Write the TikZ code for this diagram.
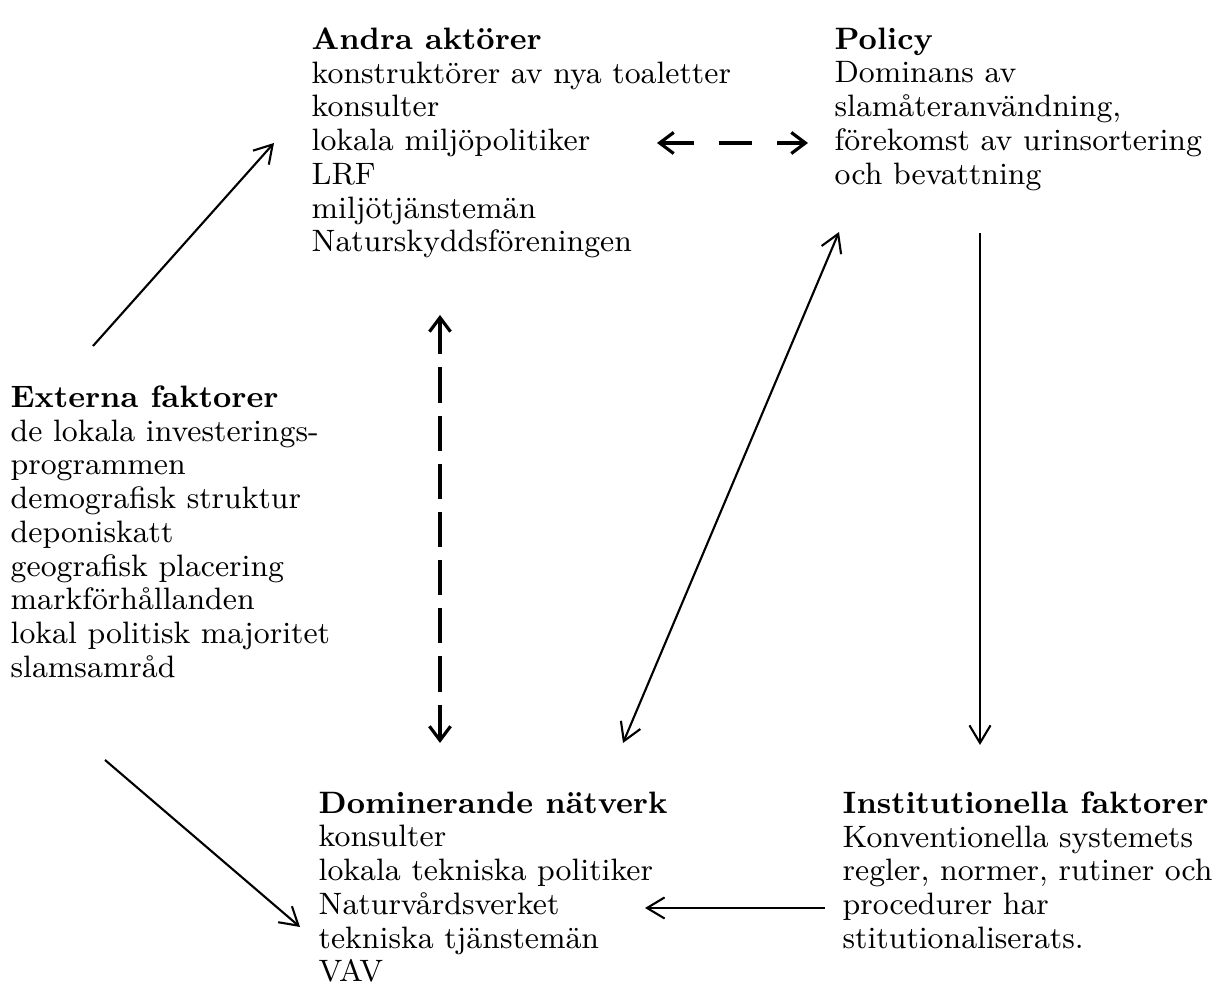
\documentclass[tikz,border=0pt]{standalone}
\usetikzlibrary{arrows.meta}
\begin{document}
\begin{tikzpicture}[x=0.01cm,y=-0.01cm,
    blk/.style={anchor=north west,align=left,inner sep=0pt,font=\fontsize{8.8}{9.6}\selectfont},
    pil/.style={line width=0.6pt,-{Straight Barb[length=5pt,width=6pt]}},
    dpil/.style={line width=0.9pt,{Straight Barb[length=4pt,width=6pt]}-{Straight Barb[length=4pt,width=6pt]}}]
       \useasboundingbox (0,0) rectangle (1226,1001);
       \node[blk] (andra) at (311,27) {\textbf{Andra aktörer}\\konstruktörer av nya toaletter\\konsulter\\
         lokala miljöpolitiker\\LRF\\miljötjänstemän\\Naturskyddsföreningen};
       \node[blk] (policy) at (834,27) {\textbf{Policy}\\Dominans av\\slamåteranvändning,\\
         förekomst av urinsortering\\och bevattning};
       \node[blk] (ext) at (10,385) {\textbf{Externa faktorer}\\de lokala investerings-\\programmen\\
         demografisk struktur\\deponiskatt\\geografisk placering\\markförhållanden\\
         lokal politisk majoritet\\slamsamråd};
       \node[blk] (domin) at (318,791) {\textbf{Dominerande nätverk}\\konsulter\\lokala tekniska politiker\\
         Naturvårdsverket\\tekniska tjänstemän\\VAV};
       \node[blk] (inst) at (842,791) {\textbf{Institutionella faktorer}\\Konventionella systemets\\
         regler, normer, rutiner och\\procedurer har\\stitutionaliserats.};
       % pilarnas ändpunkter
       \coordinate (ext-a) at (93,346);   \coordinate (andra-e) at (274,143);
       \coordinate (ext-d) at (105,760);  \coordinate (domin-e) at (300,927);
       \coordinate (andra-d) at (440,315); \coordinate (domin-a) at (440,743);
       \coordinate (andra-p) at (657,143); \coordinate (policy-a) at (808,143);
       \coordinate (domin-p) at (623,743); \coordinate (policy-d) at (839,232);
       \coordinate (policy-i) at (980,233); \coordinate (inst-p) at (980,745);
       \coordinate (inst-d) at (825,908);  \coordinate (domin-i) at (645,908);
       \draw[pil] (ext-a) -- (andra-e);
       \draw[pil] (ext-d) -- (domin-e);
       \draw[dpil,dash pattern=on 10pt off 3.7pt] (andra-d) -- (domin-a);
       \draw[dpil,dash pattern=on 9.4pt off 7.1pt] (andra-p) -- (policy-a);
       \draw[pil,{Straight Barb[length=5pt,width=6pt]}-{Straight Barb[length=5pt,width=6pt]}] (domin-p) -- (policy-d);
       \draw[pil] (policy-i) -- (inst-p);
       \draw[pil] (inst-d) -- (domin-i);
      \end{tikzpicture}
\end{document}
